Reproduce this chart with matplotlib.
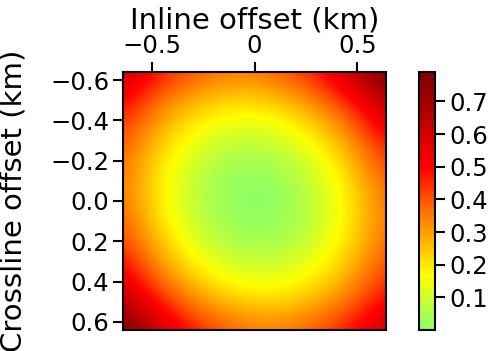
import numpy as np
import matplotlib
matplotlib.use("Agg")
import matplotlib.pyplot as plt
from matplotlib.colors import LinearSegmentedColormap

# grid node coordinates (km)
inline_km = [-0.64, -0.48, -0.32, -0.16, 0.0, 0.16, 0.32, 0.48, 0.64]
crossline_km = [-0.64, -0.48, -0.32, -0.16, 0.0, 0.16, 0.32, 0.48, 0.64]

# values; rows = crossline (top -> bottom), cols = inline
values = [
    [0.62, 0.50, 0.41, 0.36, 0.355, 0.41, 0.50, 0.64, 0.80],
    [0.50, 0.36, 0.265, 0.215, 0.205, 0.245, 0.33, 0.46, 0.64],
    [0.41, 0.265, 0.165, 0.105, 0.092, 0.125, 0.205, 0.33, 0.50],
    [0.36, 0.215, 0.105, 0.04, 0.023, 0.05, 0.125, 0.245, 0.41],
    [0.355, 0.205, 0.092, 0.023, 0.0, 0.023, 0.092, 0.205, 0.355],
    [0.41, 0.245, 0.125, 0.05, 0.023, 0.04, 0.105, 0.215, 0.36],
    [0.50, 0.33, 0.205, 0.125, 0.092, 0.105, 0.165, 0.265, 0.41],
    [0.64, 0.46, 0.33, 0.245, 0.205, 0.215, 0.265, 0.36, 0.50],
    [0.80, 0.64, 0.50, 0.41, 0.355, 0.36, 0.41, 0.50, 0.62],
]

x_ticks = [-0.5, 0.0, 0.5]
x_ticklabels = ["\u22120.5", "0", "0.5"]
y_ticks = [-0.6, -0.4, -0.2, 0.0, 0.2, 0.4, 0.6]
y_ticklabels = ["\u22120.6", "\u22120.4", "\u22120.2", "0.0", "0.2", "0.4", "0.6"]
cb_ticks = [0.1, 0.2, 0.3, 0.4, 0.5, 0.6, 0.7]
vmin, vmax = 0.0, 0.79

cmap = LinearSegmentedColormap.from_list(
    "gyr",
    [(0.0, (0.53, 1.0, 0.42)),
     (0.17 / vmax, (1.0, 1.0, 0.0)),
     (0.30 / vmax, (1.0, 0.62, 0.0)),
     (0.40 / vmax, (1.0, 0.33, 0.0)),
     (0.50 / vmax, (1.0, 0.0, 0.0)),
     (0.60 / vmax, (0.83, 0.0, 0.0)),
     (0.70 / vmax, (0.62, 0.0, 0.0)),
     (1.0, (0.5, 0.0, 0.0))])

plt.rcParams['font.family'] = ['DejaVu Sans']
fig = plt.figure(figsize=(4.93, 3.51), dpi=100)
ax = fig.add_axes([123 / 493, 1 - 330 / 351, 263 / 493, 258 / 351])

dx = inline_km[1] - inline_km[0]
dy = crossline_km[1] - crossline_km[0]
arr = np.array(values)
im = ax.imshow(arr, cmap=cmap, vmin=vmin, vmax=vmax, interpolation='bicubic',
               extent=(inline_km[0] - dx / 2, inline_km[-1] + dx / 2,
                       crossline_km[-1] + dy / 2, crossline_km[0] - dy / 2),
               aspect='auto')
ax.set_xlim(inline_km[0], inline_km[-1])
ax.set_ylim(crossline_km[-1], crossline_km[0])

ax.xaxis.tick_top()
ax.xaxis.set_label_position('top')
ax.set_xticks(x_ticks)
ax.set_xticklabels(x_ticklabels)
ax.set_yticks(y_ticks)
ax.set_yticklabels(y_ticklabels)
ax.tick_params(axis='both', direction='out', length=7, width=1.5, labelsize=17.5, pad=3)
ax.set_xlabel("Inline offset (km)", fontsize=21)
ax.set_ylabel("Crossline offset (km)", fontsize=21)
ax.xaxis.set_label_coords(0.5, (330 - 29) / 258)
ax.yaxis.set_label_coords((28 - 123) / 263, 0.5)
for s in ax.spines.values():
    s.set_linewidth(1.5)

cax = fig.add_axes([419 / 493, 1 - 330 / 351, 16 / 493, 258 / 351])
cb = fig.colorbar(im, cax=cax)
cb.set_ticks(cb_ticks)
cb.ax.tick_params(direction='out', length=7, width=1.5, labelsize=17.5, pad=3)
cb.outline.set_linewidth(1.5)

fig.savefig("out.png", dpi=100)
